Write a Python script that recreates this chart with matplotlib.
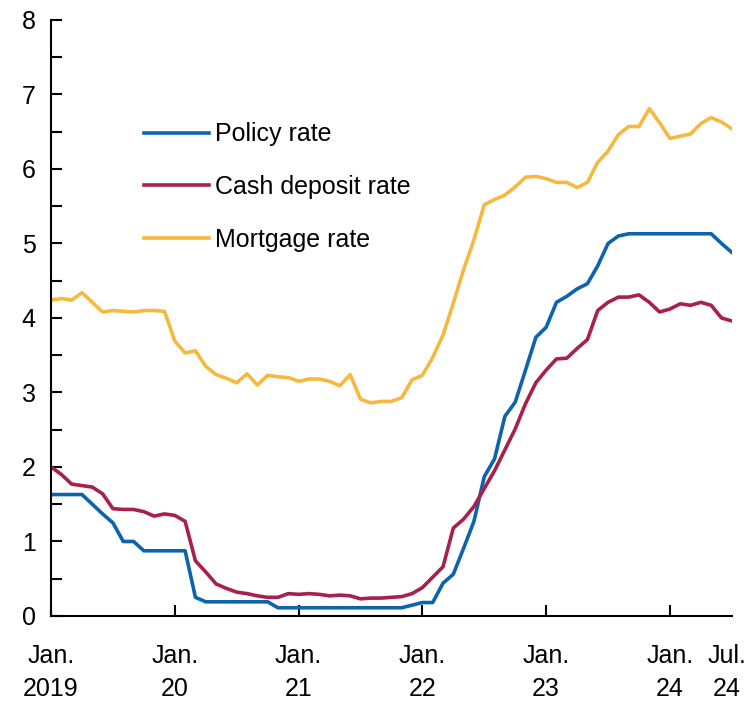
import matplotlib
matplotlib.use("Agg")
import matplotlib.pyplot as plt
import matplotlib.transforms as mtransforms
import numpy as np

# monthly, Jan 2019 .. Jul 2024
policy_rate = [
    1.63, 1.63, 1.63, 1.63, 1.50, 1.37, 1.25, 1.00, 1.00, 0.875, 0.875, 0.875,
    0.875, 0.875, 0.25, 0.19, 0.19, 0.19, 0.19, 0.19, 0.19, 0.19, 0.11, 0.11,
    0.11, 0.11, 0.11, 0.11, 0.11, 0.11, 0.11, 0.11, 0.11, 0.11, 0.11, 0.145,
    0.18, 0.18, 0.44, 0.56, 0.91, 1.27, 1.87, 2.11, 2.68, 2.87, 3.30, 3.74,
    3.875, 4.21, 4.29, 4.39, 4.46, 4.70, 5.00, 5.10, 5.13, 5.13, 5.13, 5.13,
    5.13, 5.13, 5.13, 5.13, 5.13, 5.00, 4.88,
]
deposit_rate = [
    2.00, 1.90, 1.77, 1.75, 1.73, 1.64, 1.44, 1.43, 1.43, 1.40, 1.34, 1.37,
    1.35, 1.27, 0.74, 0.59, 0.43, 0.37, 0.32, 0.30, 0.27, 0.25, 0.25, 0.30,
    0.29, 0.30, 0.29, 0.27, 0.28, 0.27, 0.23, 0.24, 0.24, 0.25, 0.26, 0.30,
    0.38, 0.52, 0.66, 1.18, 1.30, 1.47, 1.71, 1.95, 2.23, 2.51, 2.85, 3.13,
    3.30, 3.45, 3.46, 3.59, 3.71, 4.10, 4.21, 4.28, 4.28, 4.31, 4.21, 4.08,
    4.12, 4.19, 4.17, 4.21, 4.17, 4.00, 3.96,
]
mortgage_rate = [
    4.24, 4.26, 4.24, 4.34, 4.21, 4.08, 4.10, 4.09, 4.08, 4.10, 4.10, 4.09,
    3.69, 3.53, 3.56, 3.35, 3.24, 3.19, 3.13, 3.25, 3.10, 3.23, 3.21, 3.20,
    3.15, 3.18, 3.18, 3.15, 3.09, 3.24, 2.91, 2.86, 2.88, 2.88, 2.93, 3.17,
    3.23, 3.47, 3.77, 4.20, 4.65, 5.05, 5.52, 5.59, 5.65, 5.76, 5.89, 5.90,
    5.87, 5.82, 5.82, 5.75, 5.82, 6.09, 6.24, 6.46, 6.57, 6.57, 6.81, 6.62,
    6.41, 6.44, 6.47, 6.61, 6.69, 6.63, 6.54,
]
tick_months = [0, 12, 24, 36, 48, 60, 66]
tick_labels = ["Jan.\n2019", "Jan.\n20", "Jan.\n21", "Jan.\n22", "Jan.\n23", "Jan.\n24", "Jul.\n24"]

plt.rcParams['font.family'] = ['Liberation Sans', 'DejaVu Sans']

fig = plt.figure(figsize=(7.46, 7.03), dpi=100)
ax = fig.add_axes([0.0684, 0.1238, 0.9126, 0.8478])

x = np.arange(len(policy_rate))
ax.plot(x, policy_rate, color='#0d63ad', lw=2.6, label='Policy rate')
ax.plot(x, deposit_rate, color='#a8204e', lw=2.6, label='Cash deposit rate')
ax.plot(x, mortgage_rate, color='#f6b940', lw=2.6, label='Mortgage rate')

ax.set_xlim(0, 66)
ax.set_ylim(0, 8)
ax.set_yticks(range(0, 9))
ax.set_yticks(np.arange(0.5, 8, 1), minor=True)
ax.set_xticks(tick_months)
ax.set_xticklabels(tick_labels, linespacing=1.5)
ax.xaxis.get_major_ticks()[-1].tick1line.set_visible(False)

for s in ['top', 'right']:
    ax.spines[s].set_visible(False)
for s in ['left', 'bottom']:
    ax.spines[s].set_linewidth(1.5)

ax.tick_params(axis='y', which='both', direction='in', length=8, width=1.5,
               labelsize=18, pad=11)
ax.tick_params(axis='x', direction='in', length=8, width=1.5, labelsize=18, pad=20)

# nudge last label left so it stays inside the figure
last = ax.get_xticklabels()[-1]
last.set_transform(last.get_transform() +
                   mtransforms.ScaledTranslation(-5 / 100, 0, fig.dpi_scale_trans))

ax.legend(loc='upper left', bbox_to_anchor=(0.122, 0.845), frameon=False,
          fontsize=18, handlelength=2.6, handletextpad=0.25, labelspacing=1.15,
          borderaxespad=0)

fig.savefig('out.png', dpi=100)
